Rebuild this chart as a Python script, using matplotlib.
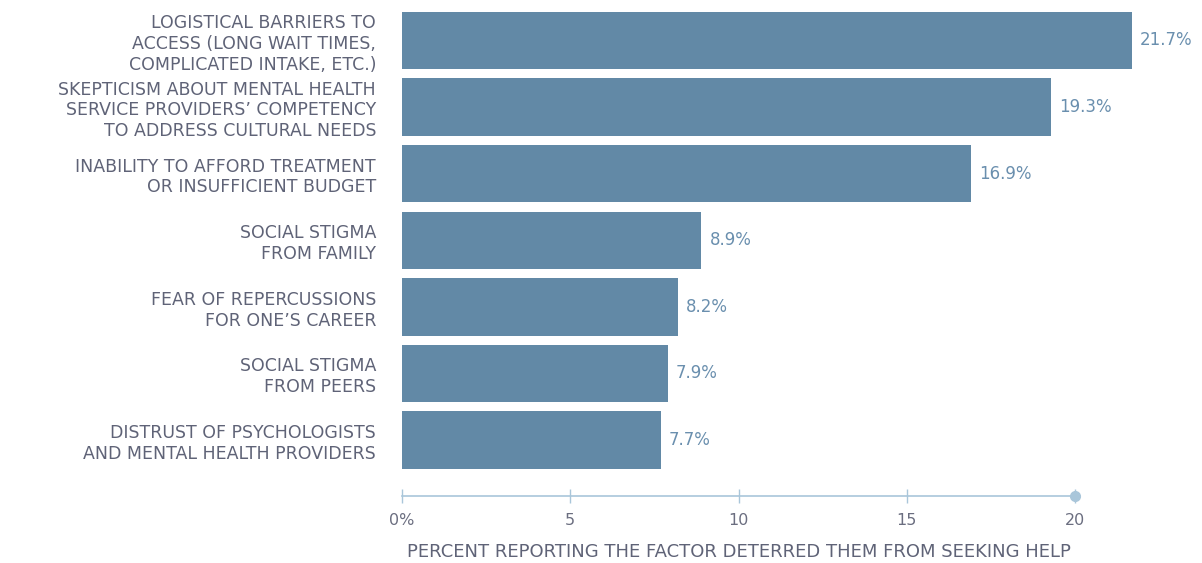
import matplotlib
matplotlib.use("Agg")
import matplotlib.pyplot as plt

categories = [
    "LOGISTICAL BARRIERS TO\nACCESS (LONG WAIT TIMES,\nCOMPLICATED INTAKE, ETC.)",
    "SKEPTICISM ABOUT MENTAL HEALTH\nSERVICE PROVIDERS\u2019 COMPETENCY\nTO ADDRESS CULTURAL NEEDS",
    "INABILITY TO AFFORD TREATMENT\nOR INSUFFICIENT BUDGET",
    "SOCIAL STIGMA\nFROM FAMILY",
    "FEAR OF REPERCUSSIONS\nFOR ONE\u2019S CAREER",
    "SOCIAL STIGMA\nFROM PEERS",
    "DISTRUST OF PSYCHOLOGISTS\nAND MENTAL HEALTH PROVIDERS",
]
values = [21.7, 19.3, 16.9, 8.9, 8.2, 7.9, 7.7]
xticks = [0, 5, 10, 15, 20]
xticklabels = ["0%", "5", "10", "15", "20"]
xlabel = "PERCENT REPORTING THE FACTOR DETERRED THEM FROM SEEKING HELP"

W, H = 1202, 563
fig = plt.figure(figsize=(W / 100, H / 100), dpi=100)
left_px, right_px = 402, W
top_px, bottom_px = 0, 496
ax = fig.add_axes([left_px / W, 1 - bottom_px / H, (right_px - left_px) / W, (bottom_px - top_px) / H])

bar_color = "#6289a6"
text_color = "#5f6377"
tick_color = "#6b6e80"
val_color = "#6a8fae"
axis_color = "#a9c6da"

pos = list(range(len(values)))
ax.barh(pos, values, height=0.86, color=bar_color)
px_per_unit = (1075 - 402) / 20
ax.set_xlim(0, (right_px - left_px) / px_per_unit)
ax.set_ylim(6.84, -0.608)

for p, v in zip(pos, values):
    ax.text(v + 8 / px_per_unit, p, f"{v}%", va="center", ha="left",
            fontsize=12, color=val_color, family="DejaVu Sans")

ax.set_yticks(pos)
ax.set_yticklabels(categories, fontsize=12.5, color=text_color, linespacing=1.2,
                   family="DejaVu Sans")
ax.tick_params(axis="y", length=0, pad=18.7)

for s in ["top", "right", "left"]:
    ax.spines[s].set_visible(False)
ax.spines["bottom"].set_bounds(0, 20)
ax.spines["bottom"].set_color(axis_color)
ax.spines["bottom"].set_linewidth(1.2)
ax.set_xticks(xticks)
ax.set_xticklabels(xticklabels, fontsize=11.5, color=tick_color, family="DejaVu Sans")
ax.tick_params(axis="x", direction="inout", length=10, width=1, color=axis_color, pad=7)
ax.plot([20], [6.84], marker="o", markersize=7, color=axis_color, clip_on=False, zorder=5)

ax.set_xlabel(xlabel, fontsize=13, color=text_color, family="DejaVu Sans")
ax.xaxis.set_label_coords((1075 - 402) / 2 / (right_px - left_px), -(552 - 496) / (bottom_px - top_px), transform=ax.transAxes)
ax.xaxis.label.set_va("center")

fig.savefig("out.png", dpi=100)
